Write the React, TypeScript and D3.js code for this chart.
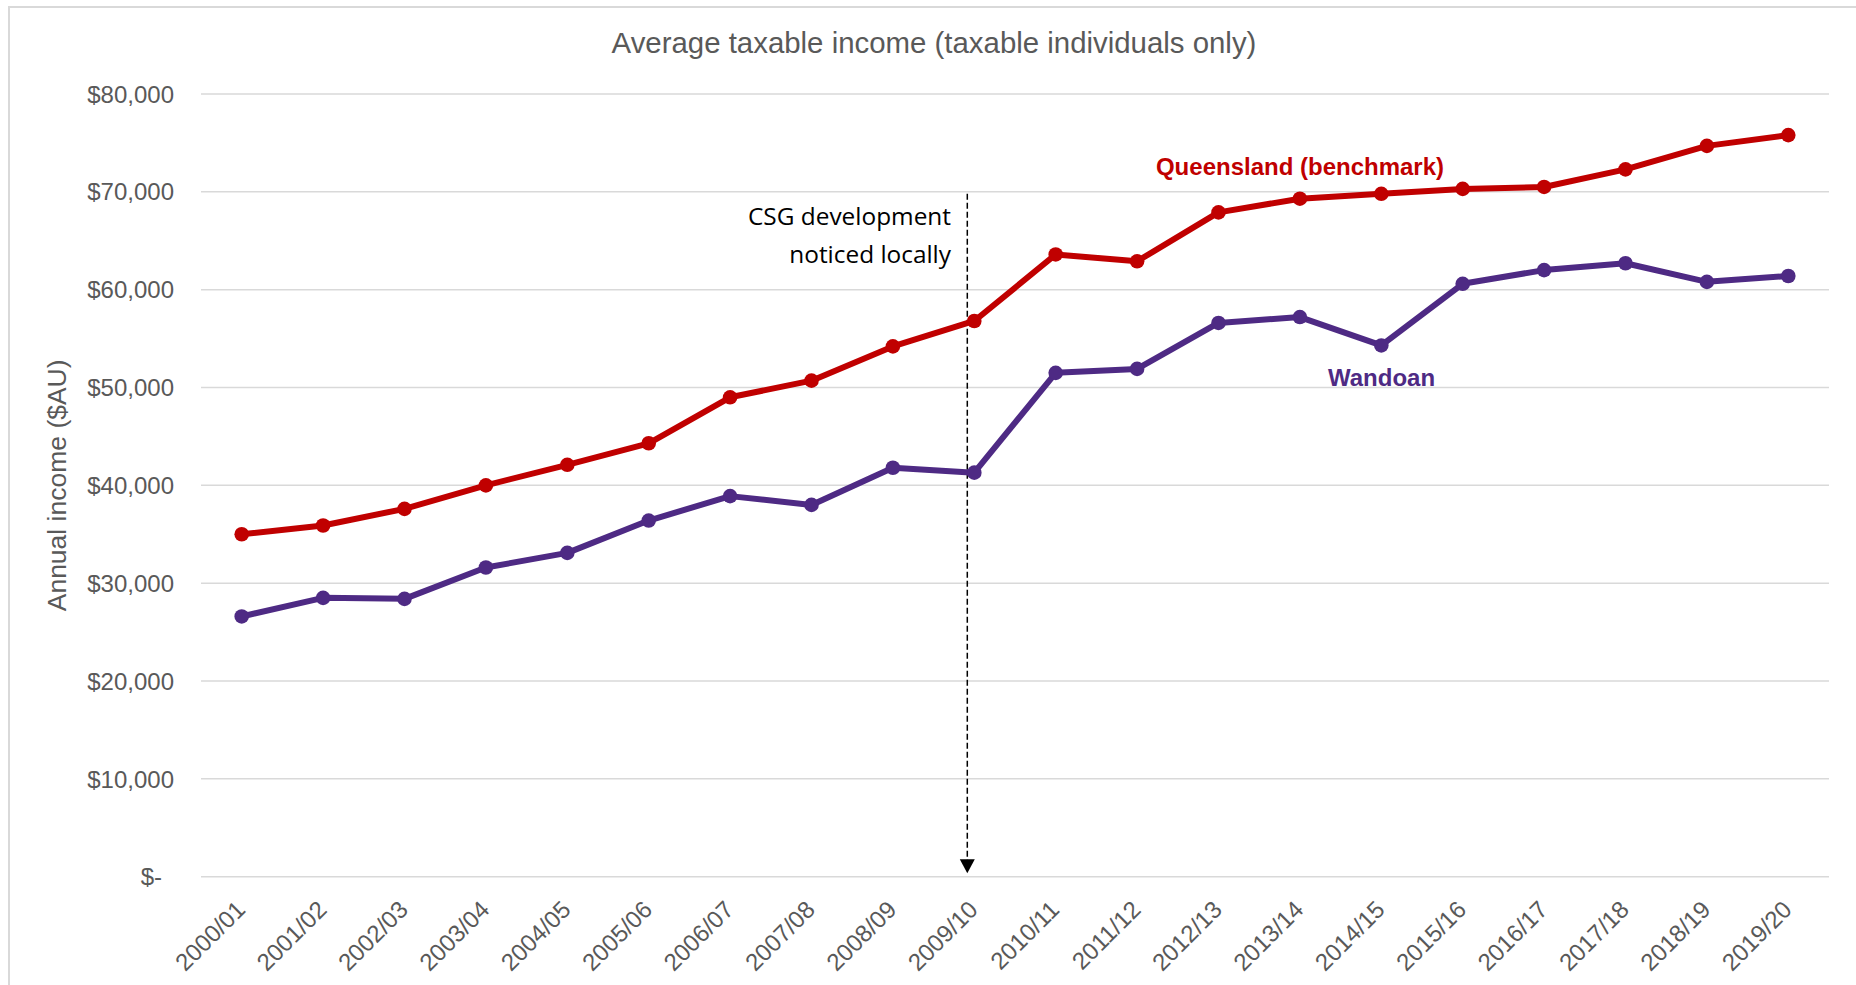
import React from "react";
import * as d3 from "d3";

const years = [
  "2000/01", "2001/02", "2002/03", "2003/04", "2004/05", "2005/06", "2006/07",
  "2007/08", "2008/09", "2009/10", "2010/11", "2011/12", "2012/13", "2013/14",
  "2014/15", "2015/16", "2016/17", "2017/18", "2018/19", "2019/20",
];

const queensland = [
  35000, 35900, 37600, 40000, 42100, 44300, 49000, 50700, 54200, 56800,
  63600, 62900, 67900, 69300, 69800, 70300, 70500, 72300, 74700, 75800,
];

const wandoan = [
  26600, 28500, 28400, 31600, 33100, 36400, 38900, 38000, 41800, 41300,
  51500, 51900, 56600, 57200, 54300, 60600, 62000, 62700, 60800, 61400,
];

const yTicks = [0, 10000, 20000, 30000, 40000, 50000, 60000, 70000, 80000];

const W = 1856;
const H = 985;
const plotLeft = 201;
const plotRight = 1829;
const plotTop = 94;
const plotBottom = 876.7;

const GREY = "#595959";
const RED = "#C00000";
const PURPLE = "#4E2A84";
const SANS = "'Liberation Sans', Arial, sans-serif";

export default function App() {
  const x = d3.scaleBand<string>().domain(years).range([plotLeft, plotRight]).padding(0);
  const cx = (d: string) => (x(d) as number) + x.bandwidth() / 2;
  const y = d3.scaleLinear().domain([0, 80000]).range([plotBottom, plotTop]);

  const line = d3
    .line<number>()
    .x((_, i) => cx(years[i]))
    .y((v) => y(v));

  const fmt = (v: number) => (v === 0 ? "$-" : "$" + d3.format(",")(v));

  const annX = cx("2009/10") - 7;
  const annTop = y(70000) + 2;
  const arrowTip = plotBottom - 3.5;

  const series = [
    { values: wandoan, color: PURPLE },
    { values: queensland, color: RED },
  ];

  return (
    <svg
      width={W}
      height={H}
      style={{ position: "absolute", left: 0, top: 0, display: "block", background: "#fff" }}
    >
      <rect x={9} y={7} width={W + 20} height={H + 20} fill="#fff" stroke="#D9D9D9" strokeWidth={2} />

      <text x={934} y={53} textAnchor="middle" fontFamily={SANS} fontSize={29.4} fill={GREY}>
        Average taxable income (taxable individuals only)
      </text>

      {yTicks.map((t) => (
        <g key={t}>
          <line x1={plotLeft} x2={plotRight} y1={y(t)} y2={y(t)} stroke="#D9D9D9" strokeWidth={1.5} />
          <text
            x={t === 0 ? 162 : 174}
            y={y(t)}
            dy="0.36em"
            textAnchor="end"
            fontFamily={SANS}
            fontSize={24}
            fill={GREY}
          >
            {fmt(t)}
          </text>
        </g>
      ))}

      <text
        transform={`translate(66, ${(plotTop + plotBottom) / 2}) rotate(-90)`}
        textAnchor="middle"
        fontFamily={SANS}
        fontSize={26.5}
        fill={GREY}
      >
        Annual income ($AU)
      </text>

      {years.map((yr) => (
        <text
          key={yr}
          transform={`translate(${cx(yr) + 5}, 911) rotate(-45)`}
          textAnchor="end"
          fontFamily={SANS}
          fontSize={24}
          fill={GREY}
        >
          {yr}
        </text>
      ))}

      {/* annotation */}
      <line
        x1={annX}
        x2={annX}
        y1={annTop}
        y2={arrowTip - 13}
        stroke="#000"
        strokeWidth={1.5}
        strokeDasharray="6,3"
      />
      <path
        d={`M${annX - 7.5},${arrowTip - 14} L${annX + 7.5},${arrowTip - 14} L${annX},${arrowTip} Z`}
        fill="#000"
      />
      <text x={951} y={225} textAnchor="end" fontFamily="'Open Sans', sans-serif" fontSize={24.4} fill="#000">
        CSG development
      </text>
      <text x={951} y={263} textAnchor="end" fontFamily="'Open Sans', sans-serif" fontSize={24.4} fill="#000">
        noticed locally
      </text>

      {series.map((s, si) => (
        <g key={si}>
          <path d={line(s.values) as string} fill="none" stroke={s.color} strokeWidth={6} strokeLinejoin="round" />
          {s.values.map((v, i) => (
            <circle key={i} cx={cx(years[i])} cy={y(v)} r={7.3} fill={s.color} />
          ))}
        </g>
      ))}

      <text x={1300} y={175} textAnchor="middle" fontFamily={SANS} fontSize={24} fontWeight="bold" fill={RED}>
        Queensland (benchmark)
      </text>
      <text x={1328} y={386} textAnchor="start" fontFamily={SANS} fontSize={24} fontWeight="bold" fill={PURPLE}>
        Wandoan
      </text>
    </svg>
  );
}
